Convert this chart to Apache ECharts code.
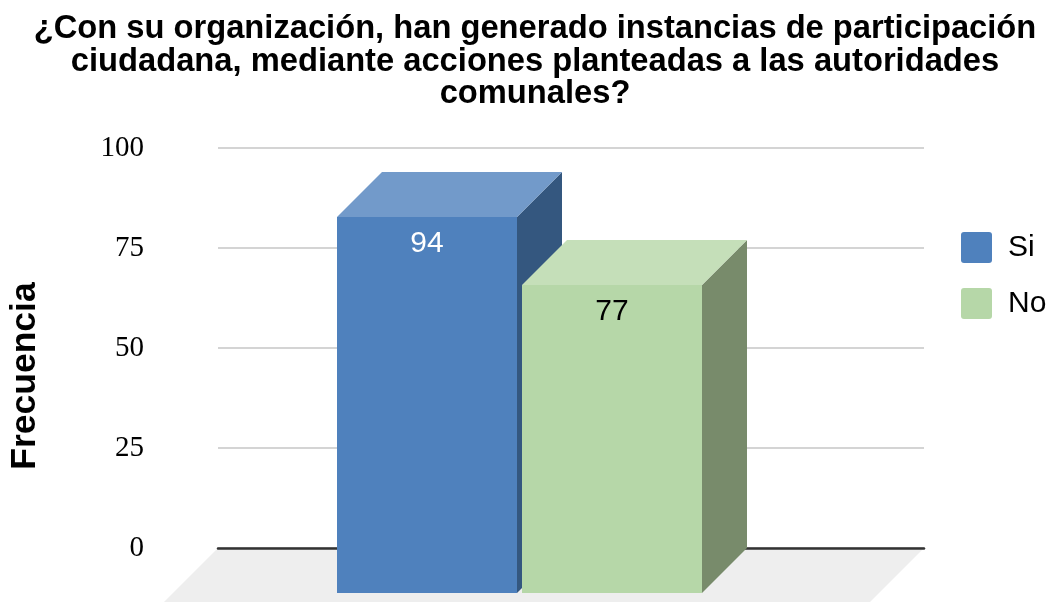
<!DOCTYPE html>
<html>
<head>
<meta charset="utf-8">
<script src="https://cdn.jsdelivr.net/npm/echarts@6/dist/echarts.min.js"></script>
<style>
html,body{margin:0;padding:0;background:#fff;}
#chart{width:1046px;height:602px;}
</style>
</head>
<body>
<div id="chart"></div>
<script>
const titleText = '¿Con su organización, han generado instancias de participación\nciudadana, mediante acciones planteadas a las autoridades\ncomunales?';
const yAxisName = 'Frecuencia';
const categories = [''];
const seriesNames = ['Si', 'No'];
const siValues = [94];
const noValues = [77];
const yTicks = [0, 25, 50, 75, 100];

const palettes = [
  { front: '#4f81bd', top: '#729aca', side: '#34577f', label: '#ffffff' },
  { front: '#b6d7a8', top: '#c5dfb9', side: '#788b6b', label: '#000000' }
];
const backOffsets = [-189, -4];
const BAR_W = 180;
const DEPTH = 45;

function barRenderer(idx) {
  return function (params, api) {
    const cat = api.value(0);
    const val = api.value(1);
    const base = api.coord([cat, 0]);
    const top = api.coord([cat, val]);
    const pal = palettes[idx];
    const x0 = base[0] + backOffsets[idx];
    const x1 = x0 + BAR_W;
    const yT = top[1];
    const yB = base[1];
    const fx0 = x0 - DEPTH, fx1 = x1 - DEPTH, fyT = yT + DEPTH, fyB = yB + DEPTH;
    return {
      type: 'group',
      children: [
        { type: 'polygon', shape: { points: [[fx1, fyT], [x1, yT], [x1, yB], [fx1, fyB]] }, style: { fill: pal.side } },
        { type: 'polygon', shape: { points: [[fx0, fyT], [fx1, fyT], [x1, yT], [x0, yT]] }, style: { fill: pal.top } },
        { type: 'rect', shape: { x: fx0, y: fyT, width: BAR_W, height: fyB - fyT }, style: { fill: pal.front } },
        { type: 'text', x: (fx0 + fx1) / 2, y: fyT + 27, style: { text: String(val), align: 'center', verticalAlign: 'middle', fill: pal.label, font: '30px "Liberation Sans", Arial, sans-serif' } }
      ]
    };
  };
}

function floorRenderer(params, api) {
  const cs = params.coordSys;
  const y0 = api.coord([0, 0])[1];
  const d = 90;
  return {
    type: 'polygon',
    shape: { points: [[cs.x, y0], [cs.x + cs.width, y0], [cs.x + cs.width - d, y0 + d], [cs.x - d, y0 + d]] },
    style: { fill: '#eeeeee' }
  };
}

const chart = echarts.init(document.getElementById('chart'), null, { renderer: 'canvas' });
chart.setOption({
  animation: false,
  backgroundColor: '#ffffff',
  color: [palettes[0].front, palettes[1].front],
  title: {
    text: titleText,
    left: 530,
    top: 8,
    textAlign: 'center',
    textStyle: { fontFamily: '"Liberation Sans", Arial, sans-serif', fontWeight: 'bold', fontSize: 32.7, lineHeight: 32.5, color: '#000' }
  },
  legend: {
    data: seriesNames,
    orient: 'vertical',
    left: 956,
    top: 227,
    itemWidth: 31,
    itemHeight: 31,
    itemGap: 25,
    icon: 'path://M3,0 H28 Q31,0 31,3 V28 Q31,31 28,31 H3 Q0,31 0,28 V3 Q0,0 3,0 Z',
    textStyle: { fontFamily: '"Liberation Sans", Arial, sans-serif', fontSize: 30, lineHeight: 31, color: '#000', padding: [0, 0, 0, 11] }
  },
  graphic: [{
    type: 'text',
    x: 25, y: 376,
    rotation: Math.PI / 2,
    style: { text: yAxisName, align: 'center', verticalAlign: 'middle', fill: '#000', font: 'bold 35.5px "Liberation Sans", Arial, sans-serif' }
  }],
  grid: { left: 218, right: 122, top: 148, bottom: 54, containLabel: false },
  xAxis: {
    type: 'category',
    data: categories,
    z: 1,
    axisLine: { show: true, lineStyle: { color: '#333333', width: 2.5 } },
    axisTick: { show: false },
    axisLabel: { show: false },
    splitLine: { show: false }
  },
  yAxis: {
    type: 'value',
    min: yTicks[0],
    max: yTicks[yTicks.length - 1],
    interval: yTicks[1] - yTicks[0],
    axisLine: { show: false },
    axisTick: { show: false },
    axisLabel: { margin: 74, fontFamily: '"Liberation Serif", "Times New Roman", serif', fontSize: 29, color: '#000' },
    splitLine: { lineStyle: { color: '#d4d4d4', width: 2 } }
  },
  series: [
    { name: 'floor', type: 'custom', z: 0, silent: true, renderItem: floorRenderer, data: [[0, 0]] },
    { name: seriesNames[0], type: 'custom', z: 2, renderItem: barRenderer(0), itemStyle: { color: palettes[0].front }, data: categories.map((c, i) => [i, siValues[i]]) },
    { name: seriesNames[1], type: 'custom', z: 3, renderItem: barRenderer(1), itemStyle: { color: palettes[1].front }, data: categories.map((c, i) => [i, noValues[i]]) }
  ]
});
</script>
</body>
</html>
